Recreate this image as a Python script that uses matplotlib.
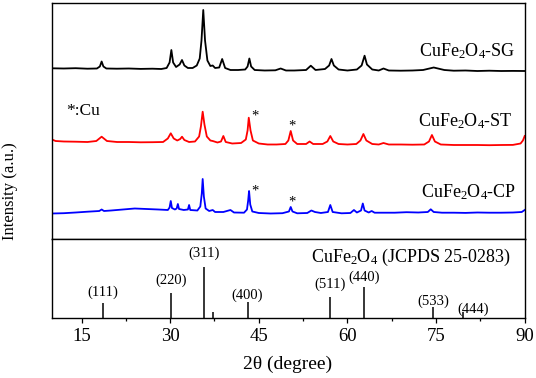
import matplotlib
matplotlib.use('Agg')
import matplotlib.pyplot as plt
import numpy as np
from matplotlib.ticker import MultipleLocator

plt.rcParams['font.family'] = ['Liberation Serif', 'DejaVu Serif']
plt.rcParams['mathtext.fontset'] = 'custom'
plt.rcParams['mathtext.rm'] = 'Liberation Serif'
plt.rcParams['mathtext.it'] = 'Liberation Serif:italic'
plt.rcParams['mathtext.default'] = 'regular'

# ---------------- data ----------------
sg_2theta = [10.0, 12, 14, 16, 17.6, 18.1, 18.4, 18.7, 19.2, 21, 23, 25, 27, 28.5, 29.4, 29.9,
             30.2, 30.5, 31.0, 31.6, 32.0, 32.4, 33.0, 33.8, 34.5, 35.0, 35.3, 35.6, 35.9, 36.3,
             36.8, 37.2, 37.6, 38.3, 38.8, 39.3, 40.2, 41.5, 42.7, 43.1, 43.4, 43.7, 44.3, 46,
             47.8, 48.7, 49.6, 51, 53.0, 53.8, 54.6, 56.2, 56.9, 57.3, 57.7, 58.5, 60, 61.6,
             62.4, 62.9, 63.3, 64.2, 65.3, 66.1, 67, 69, 71, 72.8, 74.6, 76.4, 78, 80, 82, 84,
             86, 88, 90]
sg_int = [7.2, 7.0, 7.3, 6.8, 7.0, 9, 14.0, 9, 7.0, 6.8, 7.0, 6.6, 6.8, 6.5, 7.5, 13,
          25.5, 13, 8.5, 11, 15.5, 10, 7.5, 7.5, 10, 17, 35, 65.5, 35, 15,
          9.5, 10, 7.5, 8, 16.5, 7.5, 5.5, 5.5, 6, 9, 17, 9, 5.5, 5,
          5.2, 7, 5, 5, 5.5, 9.8, 5.5, 6.5, 10, 16.5, 10, 6, 5, 6,
          10, 19.8, 11, 6, 5, 7, 5, 4.8, 5, 5.5, 8, 5.5, 4.8, 5, 4.5, 4.8,
          4.5, 4.6, 4.5]

st_2theta = [10, 10.6, 12, 14, 16, 17.5, 18.4, 19.3, 21, 23, 25, 27, 28.8, 29.6, 30.1, 30.6,
             31.2, 31.7, 32.0, 32.4, 33.2, 34.2, 34.9, 35.2, 35.5, 35.8, 36.2, 36.8, 37.2, 38.0,
             38.6, 39.0, 39.4, 40.5, 42.0, 42.8, 43.1, 43.3, 43.6, 44.0, 45, 46.5, 48, 49.5,
             50.0, 50.4, 50.8, 51.5, 53.0, 53.6, 54.2, 55.8, 56.6, 57.1, 57.6, 58.5, 60, 61.5,
             62.2, 62.7, 63.2, 64.2, 65.3, 66.1, 67, 69, 71, 73, 73.8, 74.3, 74.8, 75.8, 78,
             80, 82, 84, 86, 88, 89.3, 89.7, 90]
st_int = [11, 9.5, 9, 8.8, 8.5, 9.5, 13.8, 9.5, 8.5, 8.5, 8.2, 8.3, 8.5, 12, 17.2, 12,
          10, 11.5, 13.8, 10.5, 8.5, 9, 14, 24, 38.8, 26, 14, 10, 9.5, 8,
          9, 14.5, 8.5, 7, 7.5, 11, 20, 32.8, 20, 10, 7, 6, 6, 6.5,
          10, 19.5, 10, 6.5, 6.5, 9, 6.5, 6.5, 9, 14.5, 9, 6.5, 6, 6.5,
          10, 16.5, 10, 6.5, 6, 7.5, 6, 6, 5.8, 6, 9, 15.5, 9, 6, 5.5,
          5.5, 5.5, 5.3, 5.5, 5.6, 7, 10, 14.5]

cp_2theta = [10, 12, 14, 16, 18.0, 18.4, 18.8, 20, 22, 24, 26, 28, 29.6, 29.9, 30.1,
             30.3, 30.8, 31.1, 31.3, 31.5, 32.3, 33.0, 33.2, 33.4, 34.6, 35.1, 35.35, 35.5,
             35.7, 36.0, 36.6, 37.2, 37.6, 39, 40.2, 40.8, 42.5, 43.0, 43.2, 43.35, 43.55,
             43.9, 45, 47, 49, 50.1, 50.4, 50.7, 51.5, 53.2, 53.9, 54.5, 55.5, 56.7, 57.1,
             57.5, 59, 60.5, 61.1, 61.6, 62.3, 62.6, 62.9, 63.6, 64.1, 64.6, 66, 68, 70, 72,
             73.6, 74.1, 74.6, 76, 78, 80, 82, 84, 86, 88, 89.5, 90]
cp_int = [5.0, 5.3, 6, 6.8, 7.5, 9, 7.5, 8, 9, 10, 9.5, 9, 8.5, 11, 17.5,
          10.5, 9, 10, 14.5, 9.5, 8.5, 9, 13.5, 8.5, 8, 12, 25, 39.5,
          22, 10, 7.5, 8.5, 6.5, 6.5, 8.5, 6, 5.8, 9, 18, 27.5, 14,
          7, 5.5, 5, 5.3, 7, 11.5, 7, 5.2, 5.5, 8, 6.5, 5.5, 6.5, 13.5,
          6.5, 5.2, 5.5, 8.5, 6, 8, 15, 8, 6, 7.5, 5.8, 5.8, 5.8, 6.3, 6,
          6.5, 9.2, 6.5, 5.8, 5.8, 5.6, 6, 5.8, 5.8, 6, 6.5, 8.5]

ref_2theta = [18.6, 30.1, 35.7, 37.2, 43.1, 57.05, 62.8, 74.5, 79.6]
ref_int = [29, 49, 100, 10.5, 30, 41, 60.7, 21, 10.5]
ref_hkl = ['(111)', '(220)', '(311)', '', '(400)', '(511)', '(440)', '(533)', '(444)']

sample_labels = [r'CuFe$_2$O$_4$-SG', r'CuFe$_2$O$_4$-ST', r'CuFe$_2$O$_4$-CP']
ref_label = r'CuFe$_2$O$_4$ (JCPDS 25-0283)'

# ---------------- layout ----------------
W, H = 536, 378
fig = plt.figure(figsize=(W / 100, H / 100), dpi=100)
x0, x1 = 52, 524.7
y_top, y_mid, y_bot = 2.7, 238.5, 317.7
ax_top = fig.add_axes([x0 / W, 1 - y_mid / H, (x1 - x0) / W, (y_mid - y_top) / H])
ax_bot = fig.add_axes([x0 / W, 1 - y_bot / H, (x1 - x0) / W, (y_bot - y_mid) / H])

xlim = (10, 90)
offsets = [163, 88, 20]
colors = ['#000000', '#ff0000', '#0000ff']
lw = 1.3

for xs, ys, off, c in zip([sg_2theta, st_2theta, cp_2theta], [sg_int, st_int, cp_int], offsets, colors):
    ax_top.plot(xs, np.asarray(ys) + off, color=c, lw=lw, solid_joinstyle='round')

ax_top.set_xlim(*xlim)
ax_top.set_ylim(0, y_mid - y_top)
ax_top.set_xticks([])
ax_top.set_yticks([])

# sample labels (right aligned, baseline)
lab_pos = [(88.5, 182.5), (87.95, 111.8), (88.5, 40.8)]
for t, (lx, ly) in zip(sample_labels, lab_pos):
    ax_top.text(lx, ly, t, ha='right', va='baseline', fontsize=13)

ax_top.text(12.37, 123.5, '*:Cu', ha='left', va='baseline', fontsize=12.5)
star_pos = [(44.35, 119.0), (50.66, 108.6), (44.35, 43.6), (50.66, 33.0)]
for sx, sy in star_pos:
    ax_top.text(sx, sy, '*', ha='center', va='baseline', fontsize=10.5)

# reference stick pattern
ax_bot.vlines(ref_2theta, 0, ref_int, color='black', lw=1.1)
ax_bot.set_xlim(*xlim)
ax_bot.set_ylim(0, 155)
ax_bot.set_yticks([])
ax_bot.xaxis.set_major_locator(MultipleLocator(15))
ax_bot.xaxis.set_minor_locator(MultipleLocator(7.5))
ax_bot.tick_params(axis='x', which='major', direction='out', length=3.8, width=0.9,
                   labelsize=13.5, pad=3.5)
ax_bot.tick_params(axis='x', which='minor', direction='out', length=2.3, width=0.9)

hkl_pos = [(18.6, 42.5), (30.1, 65.6), (35.7, 119.8), (None, None), (43.1, 36.6),
           (57.05, 57.5), (62.8, 71.8), (74.5, 24.9), (81.3, 8.6)]
for t, (hx, hy) in zip(ref_hkl, hkl_pos):
    if t:
        ax_bot.text(hx, hy, t, ha='center', va='baseline', fontsize=10.5)
ax_bot.text(53.9, 109.6, ref_label, ha='left', va='baseline', fontsize=13)

for ax in (ax_top, ax_bot):
    for s in ax.spines.values():
        s.set_linewidth(1.0)

fig.text(288 / W, 1 - 369.3 / H, '2θ (degree)', ha='center', va='baseline', fontsize=14)
fig.text(10.5 / W, 1 - 190.7 / H, 'Intensity (a.u.)', ha='center', va='center',
         rotation=90, fontsize=12)

fig.savefig('out.png', dpi=100)
